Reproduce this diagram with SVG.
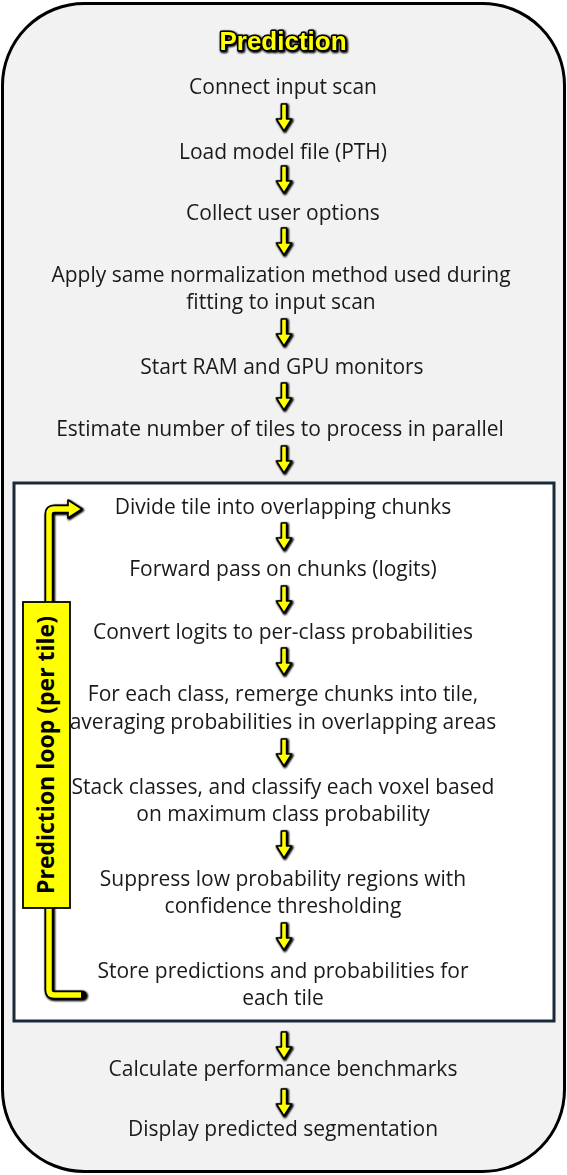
<svg xmlns="http://www.w3.org/2000/svg" width="567" height="1175" viewBox="0 0 567 1175">
<style>
.t{font-family:"Open Sans","Liberation Sans",sans-serif;font-size:21px;fill:#1a1a1a;text-anchor:middle}
.arr{fill:#ffff00;stroke:#000;stroke-width:1.6;stroke-linejoin:round}
</style>
<defs>
<filter id="glow" x="-30%" y="-30%" width="160%" height="160%">
<feGaussianBlur in="SourceAlpha" stdDeviation="1.2" result="b"/>
<feOffset in="b" dx="0.5" dy="0.8" result="o"/>
<feMerge><feMergeNode in="o"/><feMergeNode in="o"/><feMergeNode in="SourceGraphic"/></feMerge>
</filter>
<path id="dn" d="M-2.6,0 H2.6 V15 H7.6 L0,27 L-7.6,15 H-2.6 Z"/>
</defs>
<rect id="frame" x="2.5" y="3.5" width="562" height="1168" rx="82" ry="82" fill="#f2f2f2" stroke="#000" stroke-width="3"/>
<text x="283" y="50" font-family="Liberation Sans,Arial,sans-serif" font-weight="bold" font-size="26" fill="#ffff00" stroke="#000" stroke-width="3" paint-order="stroke" stroke-linejoin="round" text-anchor="middle" filter="url(#glow)">Prediction</text>
<rect id="loop-box" x="14" y="483" width="540" height="538" fill="#fff" stroke="#1b2a38" stroke-width="3"/>
<g id="connectors" filter="url(#glow)">
<use href="#dn" class="arr" x="284" y="104"/>
<use href="#dn" class="arr" x="284" y="166"/>
<use href="#dn" class="arr" x="284" y="228"/>
<use href="#dn" class="arr" x="284" y="319"/>
<use href="#dn" class="arr" x="284" y="383"/>
<use href="#dn" class="arr" x="284" y="446"/>
<use href="#dn" class="arr" x="284" y="523"/>
<use href="#dn" class="arr" x="284" y="586"/>
<use href="#dn" class="arr" x="284" y="648"/>
<use href="#dn" class="arr" x="284" y="739"/>
<use href="#dn" class="arr" x="284" y="831"/>
<use href="#dn" class="arr" x="284" y="923"/>
<use href="#dn" class="arr" x="284" y="1032"/>
<use href="#dn" class="arr" x="284" y="1089"/>
<g id="loop-arrow">
<path d="M82,995 H54 Q49,995 49,990 V514 Q49,509 54,509 H70" fill="none" stroke="#000" stroke-width="9" stroke-linecap="round" stroke-linejoin="round"/>
<polygon points="68,500 82,509 68,518" class="arr"/>
<path d="M81,995 H54 Q49,995 49,990 V514 Q49,509 54,509 H69.5" fill="none" stroke="#ffff00" stroke-width="5.5" stroke-linejoin="round"/>
</g>
</g>
<g id="loop-label">
<rect x="23" y="602" width="47" height="306" fill="#ffff00" stroke="#000" stroke-width="1.8"/>
<text transform="translate(53.5,755) rotate(-90)" font-family="Open Sans,Liberation Sans,sans-serif" font-weight="bold" font-size="23" fill="#000" text-anchor="middle">Prediction loop (per tile)</text>
</g>
<g id="n1"><text class="t" x="283" y="94">Connect input scan</text></g>
<g id="n2"><text class="t" x="283" y="159">Load model file (PTH)</text></g>
<g id="n3"><text class="t" x="283" y="220">Collect user options</text></g>
<g id="n4"><text class="t" x="281" y="282">Apply same normalization method used during</text><text class="t" x="281" y="309">fitting to input scan</text></g>
<g id="n5"><text class="t" x="282" y="374">Start RAM and GPU monitors</text></g>
<g id="n6"><text class="t" x="280" y="436">Estimate number of tiles to process in parallel</text></g>
<g id="n7"><text class="t" x="283" y="514">Divide tile into overlapping chunks</text></g>
<g id="n8"><text class="t" x="283" y="576">Forward pass on chunks (logits)</text></g>
<g id="n9"><text class="t" x="283" y="639">Convert logits to per-class probabilities</text></g>
<g id="n10"><text class="t" x="283" y="701">For each class, remerge chunks into tile,</text><text class="t" x="283" y="729">averaging probabilities in overlapping areas</text></g>
<g id="n11"><text class="t" x="283" y="794">Stack classes, and classify each voxel based</text><text class="t" x="283" y="821">on maximum class probability</text></g>
<g id="n12"><text class="t" x="283" y="886">Suppress low probability regions with</text><text class="t" x="283" y="913">confidence thresholding</text></g>
<g id="n13"><text class="t" x="283" y="978">Store predictions and probabilities for</text><text class="t" x="283" y="1005">each tile</text></g>
<g id="n14"><text class="t" x="283" y="1076">Calculate performance benchmarks</text></g>
<g id="n15"><text class="t" x="283" y="1136">Display predicted segmentation</text></g>
</svg>
